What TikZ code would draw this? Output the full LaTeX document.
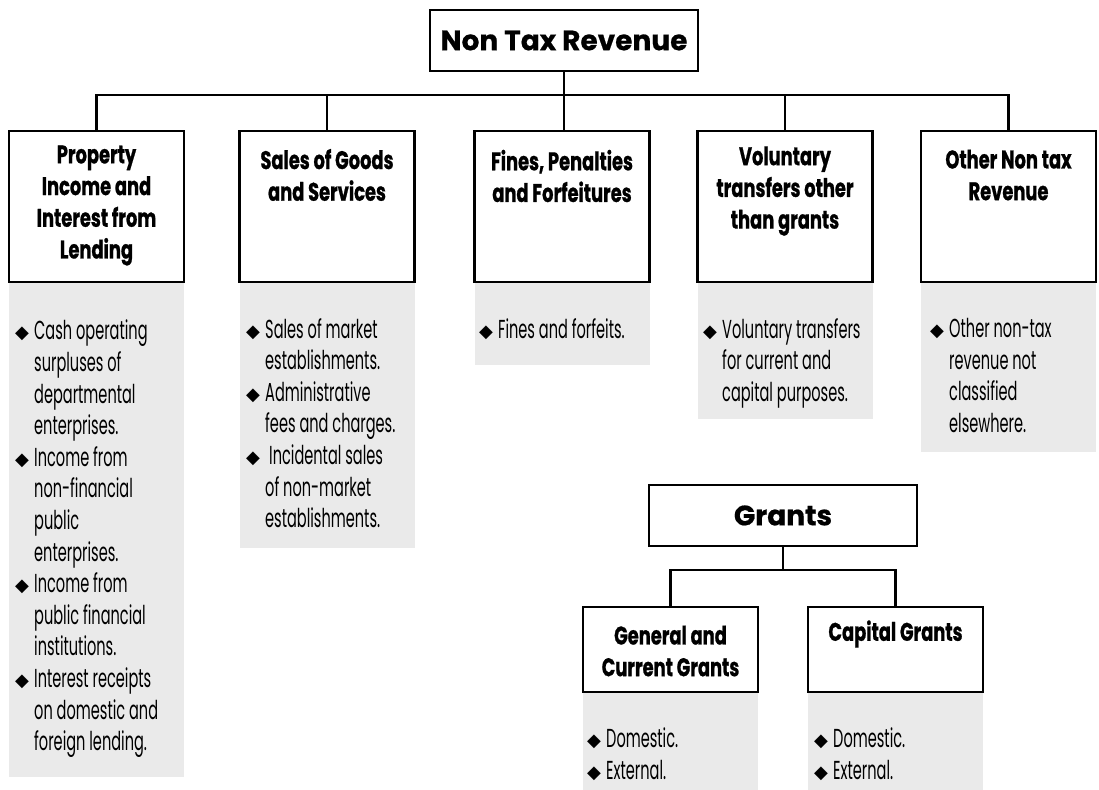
\documentclass[tikz,border=0pt]{standalone}
\usepackage{fontspec}
\usetikzlibrary{backgrounds}
\setmainfont{Poppins}
\newfontfamily\titlefont[FakeBold=0.6]{Poppins}
\newfontfamily\headfont[FakeStretch=0.7,FakeBold=0.8]{Poppins}
\newfontfamily\bodyfont[FakeStretch=0.56]{Poppins}
\newfontfamily\symfont{DejaVu Sans}
\definecolor{panelgray}{RGB}{234,234,234}

% bullet marker and hanging indent for the item lists
\newlength\bulletindent
\setlength\bulletindent{18pt}
\newcommand\bul{\makebox[\bulletindent][l]{\hspace*{-1pt}\raisebox{1pt}{\symfont\fontsize{18}{18}\selectfont ◆}}}
\newcommand\cont{\hspace*{\bulletindent}}

\tikzset{
  titlebox/.style={draw, line width=2.5pt, fill=white, inner sep=0pt,
    minimum width=268pt, minimum height=61pt,
    font=\titlefont\bfseries\fontsize{28}{32}\selectfont},
  catbox/.style={draw, line width=2.5pt, fill=white, inner sep=0pt,
    minimum width=175pt, minimum height=151pt},
  subbox/.style={draw, line width=2.5pt, fill=white, inner sep=0pt,
    minimum width=175pt, minimum height=85pt},
  head/.style={font=\headfont\bfseries\fontsize{25.5}{31.7}\selectfont,
    align=center, inner sep=0pt},
  panel/.style={fill=panelgray, inner sep=0pt, minimum width=175pt, anchor=north},
  items/.style={font=\bodyfont\fontsize{26}{31.6}\selectfont,
    align=left, anchor=north west, inner sep=0pt},
  link/.style={line width=2.2pt}
}

\begin{document}
\begin{tikzpicture}[x=1pt,y=-1pt]
\useasboundingbox (0,0) rectangle (1099,789);

% ---- revenue tree ----
\node[titlebox] (top) at (564,40.5) {Non Tax Revenue};

\node[catbox] (b1) at (96.5,206.5) {};
\node[catbox] (b2) at (327,206.5) {};
\node[catbox] (b3) at (562,206.5) {};
\node[catbox] (b4) at (785,206.5) {};
\node[catbox] (b5) at (1008.5,206.5) {};

\node[head] (h1) at (96.5,205.5) {Property\\Income and\\Interest from\\Lending};
\node[head] (h2) at (327,175) {Sales of Goods\\and Services};
\node[head] (h3) at (562,176) {Fines, Penalties\\and Forfeitures};
\node[head] (h4) at (785,191) {Voluntary\\transfers other\\than grants};
\node[head] (h5) at (1008.5,175) {Other Non tax\\Revenue};

\coordinate (bar) at (0,95);
\draw[link] (b1.north) -- (b1.north |- bar) -- (b5.north |- bar) -- (b5.north);
\draw[link] (b2.north) -- (b2.north |- bar);
\draw[link] (b4.north) -- (b4.north |- bar);
\draw[link] (top.south) -- (top.south |- b3.north);

% ---- grants tree ----
\node[titlebox] (grants) at (783,515.5) {Grants};
\node[subbox] (gc) at (670.5,649.5) {};
\node[subbox] (cg) at (895.5,649.5) {};
\node[head] (hgc) at (670.5,651) {General and\\Current Grants};
\node[head] (hcg) at (895.5,634) {Capital Grants};

\coordinate (gbar) at (0,570);
\draw[link] (gc.north) -- (gc.north |- gbar) -- (cg.north |- gbar) -- (cg.north);
\draw[link] (grants.south) -- (grants.south |- gbar);

% ---- shaded item panels ----
\begin{scope}[on background layer]
  \node[panel, minimum height=494pt] (p1) at (b1.south) {};
  \node[panel, minimum height=265pt] (p2) at (b2.south) {};
  \node[panel, minimum height=82pt]  (p3) at (b3.south) {};
  \node[panel, minimum height=136pt] (p4) at (b4.south) {};
  \node[panel, minimum height=169pt] (p5) at (b5.south) {};
  \node[panel, minimum height=97pt]  (p6) at (gc.south) {};
  \node[panel, minimum height=97pt]  (p7) at (cg.south) {};
\end{scope}

\node[items] (l1) at (16,320) {\bul Cash operating\\\cont surpluses of\\\cont departmental\\\cont enterprises.\\
  \bul Income from\\\cont non-financial\\\cont public\\\cont enterprises.\\
  \bul Income from\\\cont public financial\\\cont institutions.\\
  \bul Interest receipts\\\cont on domestic and\\\cont foreign lending.};
\node[items] (l2) at (247,318) {\bul Sales of market\\\cont establishments.\\
  \bul Administrative\\\cont fees and charges.\\
  \bul\hspace{4pt}Incidental sales\\\cont of non-market\\\cont establishments.};
\node[items] (l3) at (480,318) {\bul Fines and forfeits.};
\node[items] (l4) at (704,318) {\bul Voluntary transfers\\\cont for current and\\\cont capital purposes.};
\node[items] (l5) at (931,318) {\bul Other non-tax\\\cont revenue not\\\cont classified\\\cont elsewhere.};
\node[items] (l6) at (588,728) {\bul Domestic.\\\bul External.};
\node[items] (l7) at (815,728) {\bul Domestic.\\\bul External.};
\end{tikzpicture}
\end{document}
